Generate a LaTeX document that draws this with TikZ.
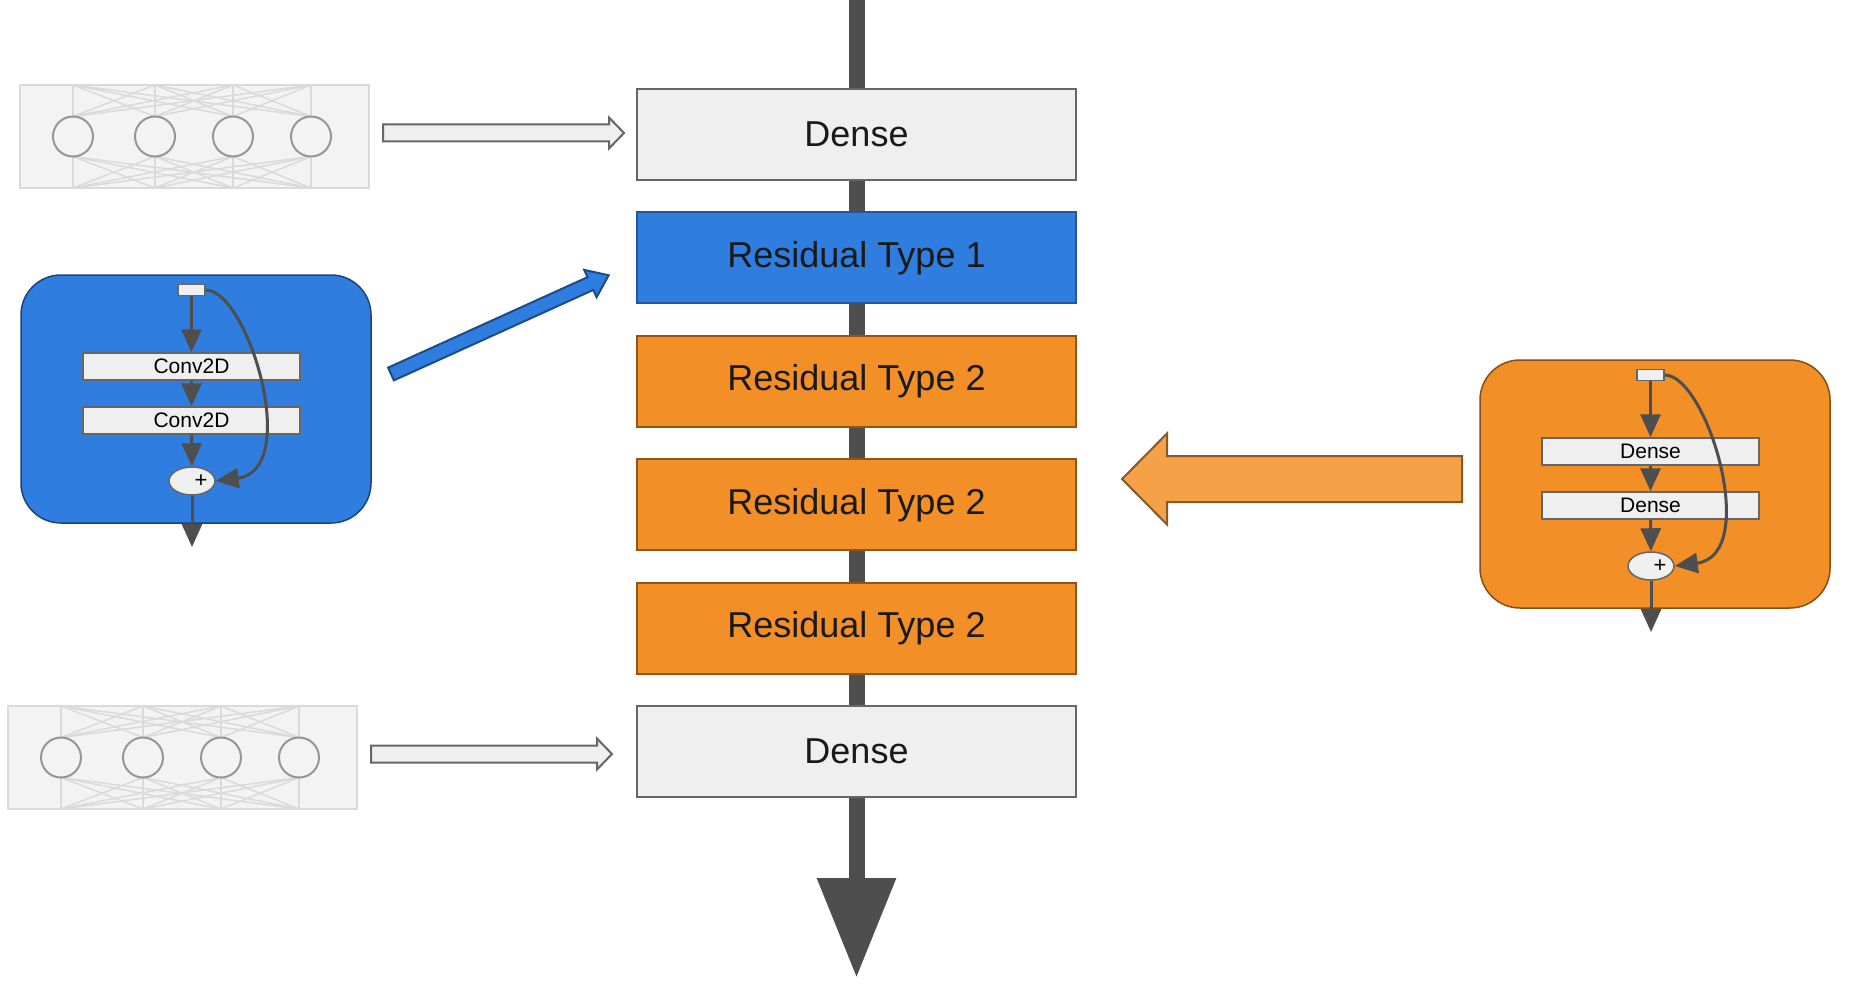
\documentclass[tikz,border=0pt]{standalone}
\usepackage{fontspec}
\setmainfont{Liberation Sans}
\usetikzlibrary{arrows.meta,shapes.geometric}

\definecolor{resblue}{RGB}{47,126,223}
\definecolor{resorange}{RGB}{242,143,38}
\definecolor{arroworange}{RGB}{245,161,72}
\definecolor{boxgray}{RGB}{239,239,239}
\definecolor{edgegray}{RGB}{102,102,102}
\definecolor{linegray}{RGB}{78,78,78}
\definecolor{netfill}{RGB}{243,243,243}
\definecolor{netline}{RGB}{218,218,218}
\definecolor{neuron}{RGB}{150,150,150}

\begin{document}
\begin{tikzpicture}[x=0.5pt,y=-0.5pt,
  layer/.style={draw=edgegray,line width=1pt,minimum width=219.5pt,minimum height=45.5pt,
    inner sep=0pt,text=black!90,font=\fontsize{18}{22}\selectfont},
  spine/.style={draw=linegray,line width=8pt},
  tap/.style={draw=edgegray,fill=boxgray,line width=0.75pt,minimum width=13.5pt,minimum height=5.5pt,inner sep=0pt},
  sublayer/.style={draw=edgegray,fill=boxgray,line width=0.75pt,minimum width=108.5pt,minimum height=13.5pt,
    inner sep=0pt,font=\fontsize{10.5}{12}\selectfont},
  addop/.style={ellipse,draw=edgegray,fill=boxgray,line width=0.75pt,minimum width=23pt,minimum height=14pt,
    inner sep=0pt,font=\fontsize{11}{12}\selectfont},
  flow/.style={draw=linegray,line width=1.5pt,-{Triangle[length=11.5pt,width=10pt]}},
  blockarrow/.style={line width=1pt,line join=miter}]

  \useasboundingbox (0,0) rectangle (1862,1000);
  \fill[white] (0,0) rectangle (1862,1000);

  % main stack
  \coordinate (top) at (856.5,0);
  \node[layer,fill=boxgray] (dense1) at (856.5,134.5) {Dense};
  \node[layer,fill=resblue,draw=resblue!70!black] (res1) at (856.5,257.9) {Residual Type 1};
  \node[layer,fill=resorange,draw=resorange!60!black] (res2) at (856.5,381.3) {Residual Type 2};
  \node[layer,fill=resorange,draw=resorange!60!black] (res3) at (856.5,504.7) {Residual Type 2};
  \node[layer,fill=resorange,draw=resorange!60!black] (res4) at (856.5,628.1) {Residual Type 2};
  \node[layer,fill=boxgray] (dense2) at (856.5,751.5) {Dense};
  \coordinate (bottom) at (856.5,978);

  \foreach \a/\b in {top/dense1,dense1/res1,res1/res2,res2/res3,res3/res4,res4/dense2}
    \draw[spine] (\a) -- (\b);
  \draw[spine,-{Triangle[length=50pt,width=37.5pt]}] (dense2) -- (bottom);

  % dense layer sketches and their arrows
  \foreach \dx/\dy in {0/0,-12/621} {
    \begin{scope}[shift={(\dx,\dy)}]
      \filldraw[fill=netfill,draw=netline,line width=1pt] (20,85) rectangle (369,188);
      \foreach \x in {73,155,233,311} {
        \draw[netline,line width=0.75pt] (\x,85) -- (\x,188);
        \foreach \y in {73,155,233,311} {
          \draw[netline,line width=0.75pt] (\x,85) -- (\y,116.5);
          \draw[netline,line width=0.75pt] (\x,188) -- (\y,156.5);
        }
      }
      \foreach \x in {73,155,233,311}
        \filldraw[fill=netfill,draw=neuron,line width=1pt] (\x,136.5) circle[radius=10pt];
      \filldraw[blockarrow,fill=boxgray,draw=edgegray] (383,133) ++(0,-8.5) -- ++(226,0) -- ++(0,-7)
        -- ++(15,15.5) -- ++(-15,15.5) -- ++(0,-7) -- ++(-226,0) -- cycle;
    \end{scope}
  }

  % residual blocks
  \foreach \dx/\dy/\col/\op/\n in {0/0/resblue/Conv2D/a,1459/85/resorange/Dense/b} {
    \begin{scope}[shift={(\dx,\dy)}]
      \node[draw=\col!55!black,fill=\col,line width=0.75pt,rounded corners=20pt,
        minimum width=175pt,minimum height=124pt] (blk\n) at (196,399) {};
      \node[tap] (tap\n) at (191.5,290) {};
      \node[sublayer] (op\n1) at (191.5,366.5) {\op};
      \node[sublayer] (op\n2) at (191.5,420.5) {\op};
      \node[addop] (add\n) at (192,481) {\hspace*{9pt}+};
      \coordinate (out\n) at (192,547);
      \draw[flow] (tap\n) -- (op\n1);
      \draw[flow] (op\n1) -- (op\n2);
      \draw[flow] (op\n2) -- (add\n);
      \draw[flow] (add\n) -- (out\n);
      \draw[flow] (tap\n.east) .. controls (248,290) and (302,470) .. (add\n.east);
    \end{scope}
  }

  % arrows into the stack
  \begin{scope}[shift={(391,374)},rotate=24.4]
    \filldraw[blockarrow,fill=resblue,draw=resblue!60!black] (0,-7) -- (219,-7) -- (219,-15)
      -- (239,0) -- (219,15) -- (219,7) -- (0,7) -- cycle;
  \end{scope}
  \filldraw[blockarrow,fill=arroworange,draw=arroworange!55!black] (1462,479) ++(0,-23) -- ++(-295,0)
    -- ++(0,-22.5) -- ++(-45,45.5) -- ++(45,45.5) -- ++(0,-22.5) -- ++(295,0) -- cycle;
\end{tikzpicture}
\end{document}
